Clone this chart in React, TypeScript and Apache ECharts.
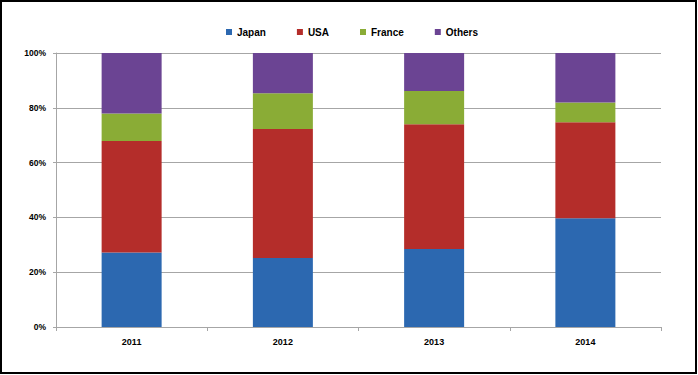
import React, { useEffect, useRef } from "react";
import * as echarts from "echarts";

const years = ["2011", "2012", "2013", "2014"];
const japan = [27.2, 25.2, 28.5, 39.7];
const usa = [40.7, 47.1, 45.5, 35.0];
const france = [10.0, 13.0, 12.1, 7.2];
const others = [22.1, 14.7, 13.9, 18.1];
const yTicks = { min: 0, max: 100, interval: 20 };

const FONT = "'Liberation Sans', Arial, sans-serif";
const GRAY = "#a6a6a6";

export default function App() {
  const ref = useRef<HTMLDivElement>(null);
  useEffect(() => {
    document.body.style.margin = "0";
    const chart = echarts.init(ref.current!, null, { renderer: "svg" });
    const mk = (name: string, data: number[], color: string) => ({
      name,
      type: "bar",
      stack: "total",
      data,
      barWidth: 60,
      itemStyle: { color },
    });
    chart.setOption({
      animation: false,
      backgroundColor: "#ffffff",
      graphic: [
        {
          type: "rect",
          shape: { x: 1, y: 1, width: 695, height: 372 },
          style: { fill: "none", stroke: "#000000", lineWidth: 2 },
          silent: true,
        },
      ],
      legend: {
        top: 22,
        left: 221,
        itemWidth: 6,
        itemHeight: 6,
        itemGap: 31,
        icon: "rect",
        textStyle: { fontFamily: FONT, fontWeight: "bold", fontSize: 10, color: "#000" },
        data: ["Japan", "USA", "France", "Others"],
      },
      grid: { left: 56, right: 37, top: 53, bottom: 48 },
      xAxis: {
        type: "category",
        data: years,
        axisLine: { lineStyle: { color: GRAY } },
        axisTick: { show: true, length: 4, lineStyle: { color: GRAY } },
        axisLabel: { margin: 10, fontFamily: FONT, fontWeight: "bold", fontSize: 9, color: "#000" },
      },
      yAxis: {
        type: "value",
        min: yTicks.min,
        max: yTicks.max,
        interval: yTicks.interval,
        axisLine: { show: true, lineStyle: { color: GRAY } },
        axisTick: { show: true, length: 3, lineStyle: { color: GRAY } },
        splitLine: { show: true, lineStyle: { color: GRAY, width: 1 } },
        axisLabel: {
          margin: 10,
          formatter: "{value}%",
          fontFamily: FONT,
          fontWeight: "bold",
          fontSize: 8.5,
          color: "#000",
        },
      },
      series: [
        mk("Japan", japan, "#2c68b0"),
        mk("USA", usa, "#b42d2a"),
        mk("France", france, "#8aac36"),
        mk("Others", others, "#6b4493"),
      ],
    });
    return () => chart.dispose();
  }, []);
  return <div ref={ref} style={{ width: 698, height: 375 }} />;
}
